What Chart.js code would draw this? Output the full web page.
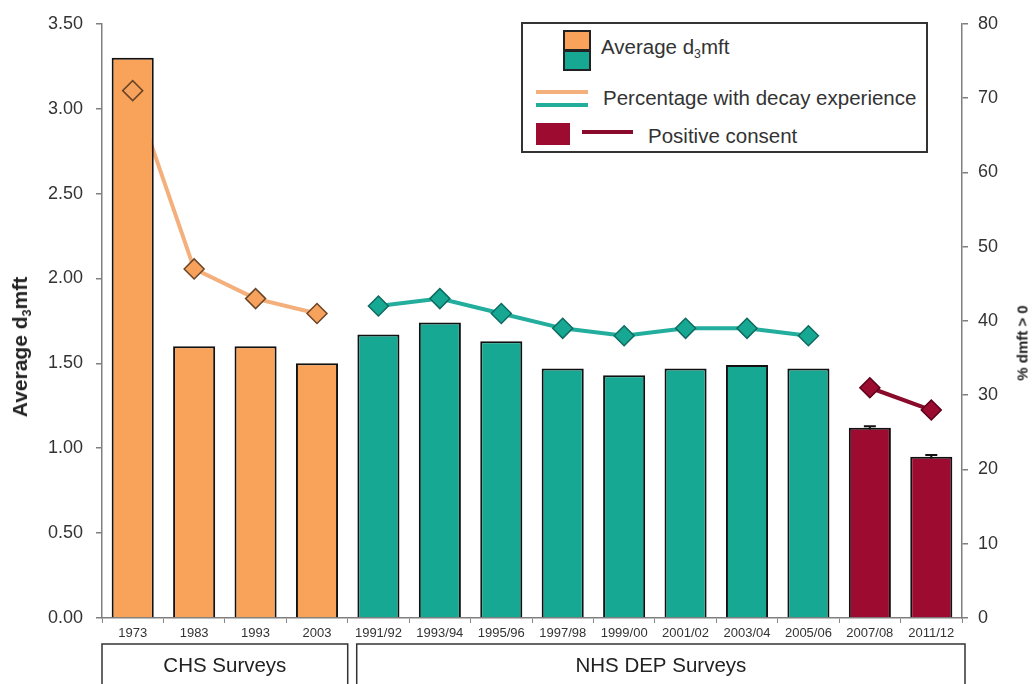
<!DOCTYPE html>
<html><head><meta charset="utf-8">
<script src="https://cdn.jsdelivr.net/npm/chart.js@4.4.1/dist/chart.umd.min.js"></script>
<style>
html,body{margin:0;padding:0;background:#fff;}
#wrap{position:relative;width:1033px;height:684px;overflow:hidden;font-family:Arial,"Liberation Sans",sans-serif;color:#222;}
#c{position:absolute;left:0;top:0;}
.abs{position:absolute;}
.ytitle{position:absolute;white-space:nowrap;font-weight:bold;transform:translate(-50%,-50%) rotate(-90deg);color:#222;}
.lgtext{position:absolute;white-space:nowrap;font-size:20.5px;color:#333;transform:translateY(-50%);}
sub{font-size:60%;vertical-align:-4px;line-height:0;}
</style>
</head><body>
<div id="wrap">
<canvas id="c" width="1033" height="684"></canvas>
<div class="ytitle" style="left:20px;top:347px;font-size:21px;">Average d<sub>3</sub>mft</div>
<div class="ytitle" style="left:1022px;top:343px;font-size:15px;">% dmft &gt; 0</div>
<div class="abs" style="left:521px;top:22px;width:407px;height:131px;border:2px solid #333;box-sizing:border-box;background:#fff;"></div>
<div class="abs" style="left:563px;top:30px;width:28px;height:21px;background:#f9a259;border:2px solid #222;box-sizing:border-box;"></div>
<div class="abs" style="left:563px;top:50px;width:28px;height:21px;background:#17a893;border:2px solid #222;box-sizing:border-box;"></div>
<div class="lgtext" style="left:601px;top:47px;">Average d<sub>3</sub>mft</div>
<div class="abs" style="left:536px;top:90px;width:52px;height:4px;background:#f4b07c;"></div>
<div class="abs" style="left:536px;top:103px;width:52px;height:4px;background:#22ad9c;"></div>
<div class="lgtext" style="left:603px;top:98px;">Percentage with decay experience</div>
<div class="abs" style="left:536px;top:123px;width:34px;height:22px;background:#9e0b30;"></div>
<div class="abs" style="left:582px;top:130px;width:51px;height:4px;background:#8a0a2c;"></div>
<div class="lgtext" style="left:648px;top:136px;">Positive consent</div>
</div>
<script>
const categories = ['1973','1983','1993','2003','1991/92','1993/94','1995/96','1997/98','1999/00','2001/02','2003/04','2005/06','2007/08','2011/12'];
const surveyGroup = ['CHS','CHS','CHS','CHS','DEP','DEP','DEP','DEP','DEP','DEP','DEP','DEP','CONSENT','CONSENT'];
const avgD3mft = [3.30,1.60,1.60,1.50,1.67,1.74,1.63,1.47,1.43,1.47,1.49,1.47,1.12,0.95];
const pctDecayCHS = [71,47,43,41,null,null,null,null,null,null,null,null,null,null];
const pctDecayDEP = [null,null,null,null,42,43,41,39,38,39,39,38,null,null];
const pctDecayConsent = [null,null,null,null,null,null,null,null,null,null,null,null,31,28];
const consentError = [null,null,null,null,null,null,null,null,null,null,null,null,0.01,0.01];
const boxLabels = ['CHS Surveys','NHS DEP Surveys'];
const boxStart = [0,4];
const boxEnd = [3,13];
const yTicksLeft = [0,0.5,1,1.5,2,2.5,3,3.5];
const yTicksRight = [0,10,20,30,40,50,60,70,80];

const barColors = {CHS:'#f9a259', DEP:'#17a893', CONSENT:'#9e0b30'};
const pointFill = {CHS:'#f6a25c', DEP:'#17a893', CONSENT:'#9a0c30'};
const pointEdge = {CHS:'#6b4526', DEP:'#0e6b60', CONSENT:'#5c0019'};
const lineColors = {CHS:'#f4b07c', DEP:'#22ad9c', CONSENT:'#8a0a2c'};

function lineDs(data, g){
  return {type:'line', data, yAxisID:'y1', borderColor:lineColors[g], borderWidth:4, pointRadius:0, spanGaps:false, order:3, tension:0};
}
function pointDs(data, g){
  return {type:'line', data, yAxisID:'y1', showLine:false, pointStyle:'rectRot', pointRadius:10, pointHoverRadius:10,
    pointBackgroundColor:pointFill[g], pointBorderColor:pointEdge[g], pointBorderWidth:1.5, order:1};
}

const groupBoxPlugin = {
  id:'groupBoxes',
  afterDraw(chart){
    const ctx = chart.ctx, x = chart.scales.x, yAx = chart.scales.y;
    const half = (x.getPixelForValue(1) - x.getPixelForValue(0))/2;
    const leftAdj = [0, 9], rightAdj = [0, 3];
    ctx.save();
    ctx.strokeStyle = '#111'; ctx.lineWidth = 2;
    consentError.forEach((e,i)=>{
      if(e==null) return;
      const cx = x.getPixelForValue(i);
      const y1 = yAx.getPixelForValue(avgD3mft[i]+e), y0 = yAx.getPixelForValue(avgD3mft[i]-e);
      ctx.beginPath();
      ctx.moveTo(cx-6,y1); ctx.lineTo(cx+6,y1);
      ctx.moveTo(cx,y1); ctx.lineTo(cx,y0);
      ctx.stroke();
    });
    ctx.strokeStyle = '#333'; ctx.lineWidth = 1.5;
    ctx.fillStyle = '#222'; ctx.font = '20.5px Arial, "Liberation Sans", sans-serif';
    ctx.textAlign = 'center'; ctx.textBaseline = 'middle';
    boxLabels.forEach((lab,i)=>{
      const l = x.getPixelForValue(boxStart[i]) - half + leftAdj[i];
      const r = x.getPixelForValue(boxEnd[i]) + half + rightAdj[i];
      ctx.strokeRect(l, 644, r-l, 60);
      ctx.fillText(lab, (l+r)/2, 666);
    });
    ctx.restore();
  }
};

new Chart(document.getElementById('c'), {
  type:'bar',
  data:{
    labels: categories,
    datasets:[
      {type:'bar', data: avgD3mft, yAxisID:'y', order:2,
        backgroundColor: surveyGroup.map(g=>barColors[g]), borderColor:'#111', borderWidth:2,
        barPercentage:0.685, categoryPercentage:1},
      lineDs(pctDecayCHS,'CHS'), lineDs(pctDecayDEP,'DEP'), lineDs(pctDecayConsent,'CONSENT'),
      pointDs(pctDecayCHS,'CHS'), pointDs(pctDecayDEP,'DEP'), pointDs(pctDecayConsent,'CONSENT')
    ]
  },
  options:{
    responsive:false, animation:false, devicePixelRatio:1,
    layout:{padding:{top:23,left:0,right:0,bottom:0}},
    plugins:{legend:{display:false}, tooltip:{enabled:false}},
    scales:{
      x:{type:'category', offset:true,
        grid:{display:true, drawOnChartArea:false, offset:true, tickLength:5, color:'#888', lineWidth:1},
        border:{display:true, color:'#7f7f7f', width:1.5},
        ticks:{autoSkip:false, maxRotation:0, minRotation:0, padding:3, color:'#333',
          font:{family:'"Liberation Sans Narrow", "Arial Narrow", Arial, sans-serif', size:13}},
        afterFit(s){ s.height = 66; }
      },
      y:{position:'left', min:0, max:3.5,
        afterBuildTicks(s){ s.ticks = yTicksLeft.map(v=>({value:v})); },
        grid:{display:true, drawOnChartArea:false, tickLength:6, color:'#7f7f7f', lineWidth:1.5},
        border:{display:true, color:'#7f7f7f', width:1.5},
        ticks:{padding:13, color:'#333', font:{family:'Arial, "Liberation Sans", sans-serif', size:18},
          callback:v=>Number(v).toFixed(2)},
        afterFit(s){ s.width = 102; }
      },
      y1:{position:'right', min:0, max:80,
        afterBuildTicks(s){ s.ticks = yTicksRight.map(v=>({value:v})); },
        grid:{display:true, drawOnChartArea:false, tickLength:6, color:'#7f7f7f', lineWidth:1.5},
        border:{display:true, color:'#7f7f7f', width:1.5},
        ticks:{padding:10, color:'#333', font:{family:'Arial, "Liberation Sans", sans-serif', size:18}},
        afterFit(s){ s.width = 71; }
      }
    }
  },
  plugins:[groupBoxPlugin]
});
</script>
</body></html>
